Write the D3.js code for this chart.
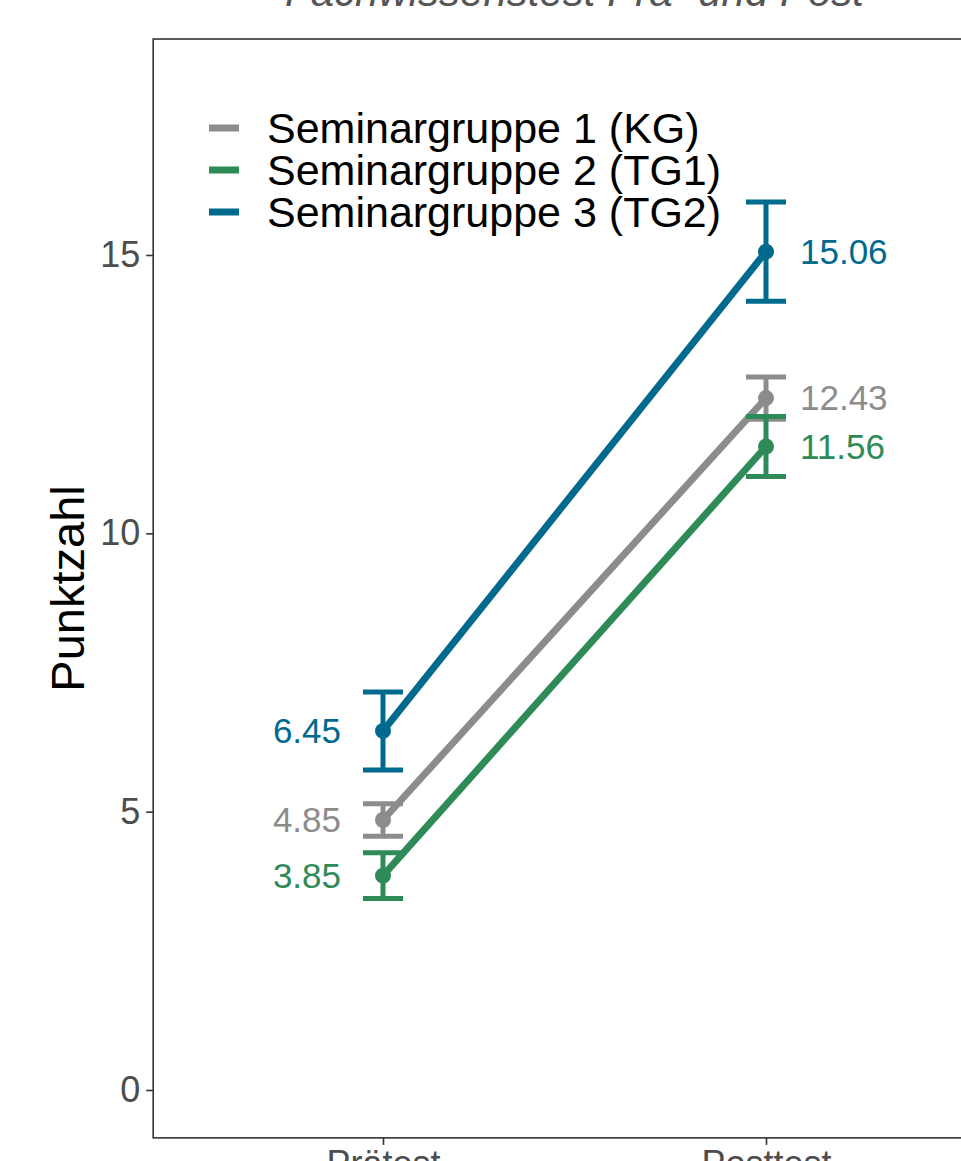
<!DOCTYPE html>
<html>
<head>
<meta charset="utf-8">
<title>Fachwissenstest</title>
<style>
  body { margin: 0; background: #fff; font-family: Arial, "Liberation Sans", sans-serif; }
  svg { display: block; }
</style>
</head>
<body>
<div id="chart"></div>
<script src="https://cdn.jsdelivr.net/npm/d3@7"></script>
<script>
const groups = ["Seminargruppe 1 (KG)", "Seminargruppe 2 (TG1)", "Seminargruppe 3 (TG2)"];
const colors = ["#8c8c8c", "#2e8b57", "#006a8e"];
const times = ["Prätest", "Posttest"];
const means = [[4.85, 12.43], [3.85, 11.56], [6.45, 15.06]];
const errs = [[0.29, 0.38], [0.41, 0.54], [0.70, 0.89]];
const yTicks = [0, 5, 10, 15];

const width = 961, height = 1161;
const svg = d3.select("#chart").append("svg")
  .attr("width", width).attr("height", height);

const x = d3.scalePoint().domain(times).range([383, 766]);
const y = d3.scaleLinear().domain([0, 15]).range([1090, 255]);
const step = x(times[1]) - x(times[0]);
const panelL = x(times[0]) - 0.6 * step, panelR = x(times[1]) + 0.6 * step;
const panelT = y(18.88), panelB = y(-0.86);

// title (cut off at top like the reference)
svg.append("text")
  .attr("x", (panelL + panelR) / 2).attr("y", 6)
  .attr("text-anchor", "middle")
  .style("font-size", "42px").style("font-style", "italic")
  .attr("fill", "#555").text("Fachwissenstest Prä- und Post");

// panel border
svg.append("rect")
  .attr("x", panelL).attr("y", panelT)
  .attr("width", panelR - panelL).attr("height", panelB - panelT)
  .attr("fill", "none").attr("stroke", "#333").attr("stroke-width", 1.6);

// y axis
const yAxis = svg.append("g").attr("transform", `translate(${panelL},0)`)
  .call(d3.axisLeft(y).tickValues(yTicks).tickSize(7).tickPadding(6));
yAxis.select(".domain").remove();
yAxis.selectAll("line").attr("stroke", "#333").attr("stroke-width", 1.6);
yAxis.selectAll("text").attr("fill", "#4d4d4d").style("font-size", "36px")
  .style("font-family", "Arial, 'Liberation Sans', sans-serif");

// x axis
const xAxis = svg.append("g").attr("transform", `translate(0,${panelB})`)
  .call(d3.axisBottom(x).tickSize(7).tickPadding(6));
xAxis.select(".domain").remove();
xAxis.selectAll("line").attr("stroke", "#333").attr("stroke-width", 1.6);
xAxis.selectAll("text").attr("fill", "#4d4d4d").style("font-size", "36px")
  .style("font-family", "Arial, 'Liberation Sans', sans-serif");

// y title, centred on the panel
svg.append("text")
  .attr("transform", `translate(84,${(panelT + panelB) / 2}) rotate(-90)`)
  .attr("text-anchor", "middle")
  .style("font-size", "47px").attr("fill", "#000").text("Punktzahl");

const line = d3.line().x((d, i) => x(times[i])).y(d => y(d));
const capW = 20;

groups.forEach((g, gi) => {
  const col = colors[gi];
  const grp = svg.append("g");
  means[gi].forEach((m, i) => {
    const cx = x(times[i]), e = errs[gi][i];
    grp.append("line").attr("x1", cx).attr("x2", cx)
      .attr("y1", y(m - e)).attr("y2", y(m + e))
      .attr("stroke", col).attr("stroke-width", 5);
    [m - e, m + e].forEach(v => {
      grp.append("line").attr("x1", cx - capW).attr("x2", cx + capW)
        .attr("y1", y(v)).attr("y2", y(v))
        .attr("stroke", col).attr("stroke-width", 5);
    });
  });
  grp.append("path").datum(means[gi]).attr("d", line)
    .attr("fill", "none").attr("stroke", col).attr("stroke-width", 7);
  grp.selectAll("circle").data(means[gi]).join("circle")
    .attr("cx", (d, i) => x(times[i])).attr("cy", d => y(d)).attr("r", 8)
    .attr("fill", col);
  grp.selectAll("text.val").data(means[gi]).join("text")
    .attr("class", "val")
    .attr("x", (d, i) => i === 0 ? x(times[i]) - 42 : x(times[i]) + 34)
    .attr("y", d => y(d)).attr("dy", "0.35em")
    .attr("text-anchor", (d, i) => i === 0 ? "end" : "start")
    .style("font-size", "35px").attr("fill", col)
    .text(d => d.toFixed(2));
});

// legend
const leg = svg.append("g");
groups.forEach((g, gi) => {
  const ly = 128 + gi * 42;
  leg.append("line").attr("x1", 209).attr("x2", 239)
    .attr("y1", ly).attr("y2", ly)
    .attr("stroke", colors[gi]).attr("stroke-width", 7);
  leg.append("text").attr("x", 267).attr("y", ly).attr("dy", "0.35em")
    .style("font-size", "43px").attr("fill", "#000").text(g);
});
</script>
</body>
</html>
